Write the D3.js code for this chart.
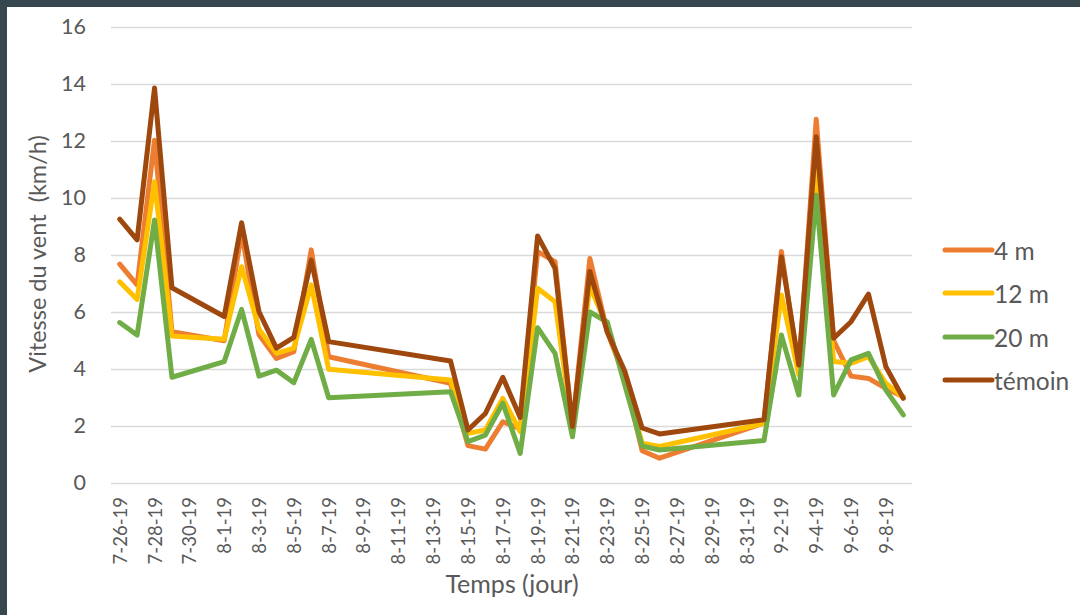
<!DOCTYPE html>
<html>
<head>
<meta charset="utf-8">
<script src="https://cdn.jsdelivr.net/npm/d3@7"></script>
<style>
  html, body { margin: 0; padding: 0; background: #ffffff; }
  svg { display: block; }
  text { font-family: Lato, "Open Sans", sans-serif; fill: #595959; }
</style>
</head>
<body>
<svg id="chart" width="1080" height="615"></svg>
<script>
// Measurement dates (month-day-year)
const dates = [
  "7-26-19","7-27-19","7-28-19","7-29-19","8-1-19","8-2-19","8-3-19","8-4-19",
  "8-5-19","8-6-19","8-7-19","8-14-19","8-15-19","8-16-19","8-17-19","8-18-19",
  "8-19-19","8-20-19","8-21-19","8-22-19","8-23-19","8-24-19","8-25-19","8-26-19",
  "9-1-19","9-2-19","9-3-19","9-4-19","9-5-19","9-6-19","9-7-19","9-8-19","9-9-19"
];

// Wind speed (km/h) per height
const wind4m = [
  7.68, 6.95, 12.03, 5.31, 4.99, 8.8, 5.2, 4.37,
  4.61, 8.18, 4.43, 3.5, 1.31, 1.19, 2.15, 1.9,
  8.12, 7.77, 2.0, 7.88, 5.3, 3.7, 1.13, 0.87,
  2.1, 8.12, 4.0, 12.76, 5.0, 3.75, 3.67, 3.32, 3.03
];
const wind12m = [
  7.06, 6.44, 10.57, 5.16, 5.04, 7.59, 5.4, 4.55,
  4.73, 6.95, 3.99, 3.61, 1.74, 1.86, 2.97, 1.8,
  6.83, 6.36, 1.9, 6.9, 5.48, 3.6, 1.4, 1.28,
  2.09, 6.6, 3.79, 10.98, 4.26, 4.2, 4.43, 3.5, 3.0
];
const wind20m = [
  5.63, 5.19, 9.23, 3.71, 4.26, 6.09, 3.75, 3.96,
  3.52, 5.04, 2.99, 3.2, 1.45, 1.68, 2.8, 1.04,
  5.45, 4.55, 1.62, 6.0, 5.65, 3.45, 1.3, 1.16,
  1.49, 5.19, 3.09, 10.1, 3.09, 4.32, 4.55, 3.26, 2.39
];
const windTemoin = [
  9.26, 8.53, 13.86, 6.85, 5.84, 9.13, 6.01, 4.73,
  5.11, 7.82, 4.96, 4.28, 1.86, 2.44, 3.71, 2.3,
  8.67, 7.53, 1.98, 7.42, 5.3, 3.93, 1.93, 1.72,
  2.22, 7.94, 4.14, 12.15, 5.08, 5.66, 6.63, 4.08, 2.97
];

const seriesNames = ["4 m", "12 m", "20 m", "témoin"];
const seriesColors = ["#ED7D31", "#FFC000", "#70AD47", "#9E480E"];
const yTicks = [0, 2, 4, 6, 8, 10, 12, 14, 16];
const xTickLabels = [
  "7-26-19","7-28-19","7-30-19","8-1-19","8-3-19","8-5-19","8-7-19","8-9-19",
  "8-11-19","8-13-19","8-15-19","8-17-19","8-19-19","8-21-19","8-23-19","8-25-19",
  "8-27-19","8-29-19","8-31-19","9-2-19","9-4-19","9-6-19","9-8-19"
];

const parse = d3.timeParse("%m-%d-%y");
const dayMs = 864e5;

const svg = d3.select("#chart");
const W = 1080, H = 615;

// Frame
svg.append("rect").attr("width", W).attr("height", H).attr("fill", "#36474f");
svg.append("rect").attr("x", 7).attr("y", 7).attr("width", W - 7).attr("height", H - 7).attr("fill", "#ffffff");

const plot = { left: 111, right: 912, top: 27, bottom: 483 };

const firstDay = parse(dates[0]);
const lastDay = parse(dates[dates.length - 1]);
const x = d3.scaleTime()
  .domain([new Date(+firstDay - dayMs / 2), new Date(+lastDay + dayMs / 2)])
  .range([plot.left, plot.right]);
const y = d3.scaleLinear().domain([0, 16]).range([plot.bottom, plot.top]);

// Horizontal gridlines
const yAxis = d3.axisLeft(y).tickValues(yTicks).tickSize(-(plot.right - plot.left)).tickPadding(25);
const gy = svg.append("g").attr("transform", `translate(${plot.left},0)`).call(yAxis);
gy.select(".domain").remove();
gy.selectAll(".tick line").attr("stroke", "#d9d9d9").attr("stroke-width", 1.5);
gy.selectAll(".tick text").attr("font-size", 21.5).attr("fill", "#595959")
  .style("font-family", "Lato, sans-serif");

// Date axis
const xAxis = d3.axisBottom(x)
  .tickValues(xTickLabels.map(parse))
  .tickSize(0)
  .tickFormat(d => `${d.getMonth() + 1}-${d.getDate()}-${String(d.getFullYear()).slice(2)}`);
const gx = svg.append("g").attr("transform", `translate(0,${plot.bottom})`).call(xAxis);
gx.select(".domain").remove();
gx.selectAll(".tick text")
  .attr("font-size", 18.5)
  .attr("fill", "#595959")
  .style("font-family", "Lato, sans-serif")
  .attr("text-anchor", "end")
  .attr("dy", "0.35em")
  .attr("transform", "translate(0,14) rotate(-90)")
  .attr("x", 0).attr("y", 0);

// Axis titles
svg.append("text")
  .attr("transform", "translate(37,254) rotate(-90)")
  .attr("text-anchor", "middle")
  .attr("dominant-baseline", "central")
  .attr("font-size", 23.5)
  .style("white-space", "pre")
  .text("Vitesse du vent  (km/h)");
svg.append("text")
  .attr("x", 512).attr("y", 593)
  .attr("text-anchor", "middle")
  .attr("font-size", 25)
  .text("Temps (jour)");

// Series lines
const series = [wind4m, wind12m, wind20m, windTemoin];
const line = d3.line()
  .x((d, i) => x(parse(dates[i])))
  .y(d => y(d));
series.forEach((vals, k) => {
  svg.append("path")
    .datum(vals)
    .attr("fill", "none")
    .attr("stroke", seriesColors[k])
    .attr("stroke-width", 5)
    .attr("stroke-linejoin", "round")
    .attr("stroke-linecap", "round")
    .attr("d", line);
});

// Legend
const legendY = [250, 293, 337, 380];
seriesNames.forEach((name, k) => {
  const g = svg.append("g").attr("transform", `translate(945,${legendY[k]})`);
  g.append("line").attr("x1", 0).attr("x2", 47).attr("y1", 0).attr("y2", 0)
    .attr("stroke", seriesColors[k]).attr("stroke-width", 5).attr("stroke-linecap", "round");
  g.append("text").attr("x", 49).attr("y", 0).attr("dominant-baseline", "central")
    .attr("font-size", 24.5).text(name);
});
</script>
</body>
</html>
